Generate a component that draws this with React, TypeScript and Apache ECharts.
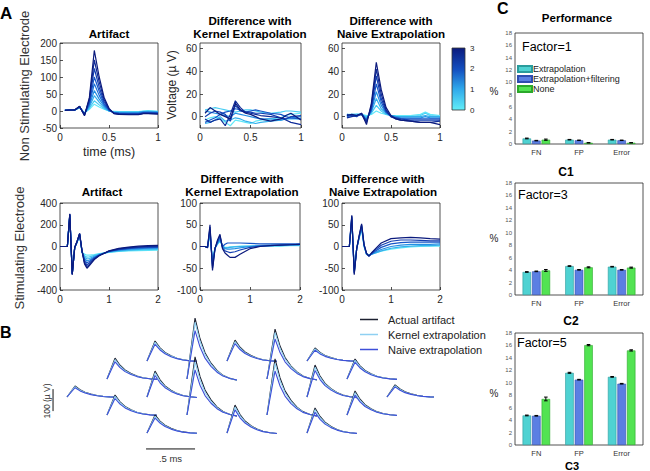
import React, { useEffect, useRef } from "react";
import * as echarts from "echarts";

const FONT = '"Liberation Sans", Arial, Helvetica, sans-serif';
const INK = "#262626";

// ---------- Panel A: traces in µV ----------
const shortTimesMs = [0.05, 0.1, 0.15, 0.2, 0.25, 0.3, 0.35, 0.4, 0.45, 0.5, 0.55, 0.6, 0.7, 0.8, 0.85, 0.9, 1.0];
const longTimesMs = [0, 0.1, 0.15, 0.2, 0.25, 0.3, 0.35, 0.4, 0.45, 0.5, 0.55, 0.6, 0.7, 0.8, 1.0, 1.2, 1.4, 1.6, 1.8, 2.0];

const nonStimArtifact = [
  [2, 3, 3, 14, -14, 40, 178, 100, 40, 8, -8, -10, -11, -11, -8, -8, -9],
  [2, 3, 3, 13, -12, 35, 150, 85, 34, 6, -7, -9, -10, -10, -7, -7, -8],
  [2, 3, 3, 13, -11, 30, 125, 70, 28, 4, -6, -8, -9, -9, -6, -6, -7],
  [2, 3, 3, 12, -10, 25, 100, 58, 22, 3, -5, -7, -8, -8, -5, -5, -6],
  [2, 3, 3, 12, -9, 20, 80, 46, 18, 2, -5, -6, -7, -7, -4, -4, -5],
  [2, 3, 3, 11, -8, 16, 60, 35, 14, 1, -4, -5, -6, -5, -3, -3, -4],
  [2, 3, 3, 10, -7, 12, 45, 26, 10, 0, -3, -4, -4, -4, -2, -2, -3],
  [2, 3, 3, 10, -6, 8, 30, 18, 7, 0, -2, -3, -3, -3, -1, 0, -2],
  [2, 3, 3, 9, -5, 5, 20, 12, 5, 0, -1, -2, -2, -2, 0, 1, -1],
];
const nonStimKernelDiff = [
  [3, 8, 5, 2, 0, -2, 12, 6, 3, 2, 0, -2, -4, -2, 1, 3, -3],
  [-2, -5, -3, -2, -8, 2, 14, 8, 4, 3, 2, 1, 0, -1, -3, -5, -7],
  [0, 3, 5, 4, 2, -4, 10, 5, 4, 4, 3, 3, 2, -1, -2, 0, 1],
  [-5, -3, -1, 2, 4, 5, 7, 6, 4, 5, 6, 5, 3, 2, 0, -1, -2],
  [5, 4, 3, 2, 1, 0, 3, 2, 1, 0, -1, -2, -2, -3, -2, -1, 0],
  [-6, -5, -3, 0, -4, -3, -1, -2, -4, -5, -6, -5, -4, -3, -2, -2, -2],
  [6, 7, 8, 7, 6, 5, 4, 5, 6, 6, 5, 4, 3, 4, 5, 5, 4],
  [-3, -1, 0, -2, -5, -8, -3, -4, -5, -6, -4, -3, -2, -1, 1, 2, 3],
];
const nonStimNaiveDiff = [
  [1, 2, 1, 3, -7, 12, 48, 24, 8, 1, -2, -3, -4, -5, -5, -5, -7],
  [-1, 0, 1, 2, -5, 10, 42, 20, 6, 0, -2, -3, -4, -5, -5, -5, -4],
  [2, 1, 0, 3, -4, 8, 36, 16, 5, 0, -1, -2, -3, -3, -3, -3, -3],
  [0, 1, 1, 2, -3, 6, 29, 13, 4, 0, -1, -2, -2, -2, -2, -2, -2],
  [1, 1, 1, 2, -2, 5, 22, 10, 3, 1, 0, -1, -1, -1, 0, -1, -1],
  [1, 2, 2, 2, -1, 4, 16, 7, 3, 1, 0, 0, 0, 0, 1, 0, 0],
  [1, 1, 2, 2, 0, 3, 10, 5, 2, 1, 0, 0, 0, 1, 3, 1, 0],
  [2, 2, 2, 2, 1, 2, 5, 3, 2, 1, 1, 1, 1, 2, 4, 2, 1],
];
const stimArtifact = [
  [0, 0, 0, 300, -260, -10, 50, 120, -40, -160, -200, -175, -120, -85, -40, -18, -5, 3, 8, 10],
  [0, 0, 0, 298, -258, -10, 48, 118, -42, -150, -185, -165, -115, -83, -42, -22, -10, -3, 2, 4],
  [0, 0, 0, 295, -255, -10, 46, 116, -44, -138, -168, -152, -110, -80, -44, -26, -15, -8, -4, -2],
  [0, 0, 0, 292, -252, -10, 44, 114, -46, -125, -150, -138, -104, -78, -46, -30, -20, -14, -10, -8],
  [0, 0, 0, 290, -250, -10, 42, 112, -48, -112, -132, -124, -97, -76, -48, -34, -25, -20, -16, -14],
  [0, 0, 0, 287, -247, -10, 40, 110, -50, -98, -115, -110, -90, -73, -50, -38, -31, -26, -22, -20],
  [0, 0, 0, 284, -244, -10, 38, 108, -52, -84, -98, -95, -82, -70, -52, -42, -36, -32, -29, -27],
  [0, 0, 0, 280, -240, -10, 36, 106, -54, -70, -80, -80, -74, -66, -54, -46, -41, -38, -35, -33],
];
const stimKernelDiff = [
  [0, 0, -3, 50, -55, -5, 15, 28, -5, -15, -20, -25, -25, -18, -5, 0, 2, 3, 4, 5],
  [0, 0, -3, 45, -50, -5, 12, 25, -3, -10, -12, -14, -12, -8, -2, 1, 2, 3, 4, 5],
  [0, 0, -2, 40, -45, -4, 10, 22, 0, 5, 8, 8, 8, 8, 7, 6, 6, 6, 6, 6],
  [0, 0, -2, 35, -40, -4, 8, 18, 0, -5, -6, -6, -5, -3, 0, 2, 3, 3, 4, 4],
  [0, 0, -2, 30, -35, -3, 6, 15, 0, -3, -3, -2, -1, 0, 1, 2, 2, 2, 3, 3],
  [0, 0, -1, 25, -30, -3, 5, 12, 1, -2, -2, -1, 0, 1, 1, 1, 1, 1, 2, 2],
];
const stimNaiveDiff = [
  [0, 0, 0, 72, -65, -5, 25, 52, 5, -15, -22, -15, -3, 8, 18, 20, 21, 20, 18, 17],
  [0, 0, 0, 70, -62, -5, 24, 50, 4, -16, -22, -16, -6, 3, 12, 15, 15, 14, 13, 13],
  [0, 0, 0, 68, -60, -5, 22, 48, 3, -17, -22, -17, -9, -2, 6, 9, 10, 10, 10, 10],
  [0, 0, 0, 65, -58, -5, 21, 45, 2, -18, -21, -18, -12, -7, 0, 3, 5, 5, 5, 6],
  [0, 0, 0, 62, -55, -5, 20, 42, 1, -18, -20, -18, -14, -10, -4, -1, 1, 2, 2, 3],
  [0, 0, 0, 60, -52, -5, 18, 40, 0, -17, -19, -17, -14, -11, -6, -3, -1, 0, 1, 1],
];

// dark navy -> cyan ramp used for the traces and the colour bar
const rampColors = ["#0b1a7d", "#0e2b98", "#123fb2", "#1656c8", "#1b70d8", "#2490e4", "#33afec", "#48cdf3", "#62e8f8"];
const colorbarTicks = [0, 1, 2, 3];

// ---------- Panel B: artifact per electrode ----------
const electrodeCol = [0, 1, 1, 2, 2, 2, 3, 3, 4, 4, 5, 5, 6, 6, 6, 7, 7, 8];
const electrodeRow = [2, 1, 3, 0, 2, 4, 1, 3, 0, 4, 1, 3, 0, 2, 4, 1, 3, 2];
const actualPeakUv = [50, 95, 91, 91, 118, 82, 277, 264, 95, 127, 227, 255, 59, 145, 114, 91, 109, 55];
const kernelPeakUv = [47, 88, 85, 85, 110, 76, 258, 240, 88, 118, 211, 235, 55, 135, 106, 85, 101, 51];
const naivePeakUv = [42, 78, 75, 76, 98, 68, 220, 205, 79, 105, 182, 200, 49, 120, 94, 76, 90, 46];
const pulseTimeMs = [0, 0.082, 0.133, 0.184, 0.245, 0.306, 0.367, 0.439, 0.51];
const pulseShape = [0, 1, 0.66, 0.43, 0.26, 0.14, 0.06, 0.01, -0.02];
const scaleBarMs = 0.5;
const scaleBarUv = 100;

// ---------- Panel C: performance (%) ----------
const perfCategories = ["FN", "FP", "Error"];
const methodNames = ["Extrapolation", "Extrapolation+filtering", "None"];
const factorLabels = ["Factor=1", "Factor=3", "Factor=5"];
const factor1Ext = [0.9, 0.7, 0.7];
const factor1Filt = [0.55, 0.6, 0.6];
const factor1None = [0.7, 0.2, 0.2];
const factor3Ext = [3.7, 4.65, 4.55];
const factor3Filt = [3.8, 4.05, 4.05];
const factor3None = [3.95, 4.45, 4.4];
const factor5Ext = [4.75, 11.6, 10.95];
const factor5Filt = [4.7, 10.5, 9.85];
const factor5None = [7.4, 16.05, 15.2];
const factor1Err = [[0.06, 0.04, 0.04], [0.04, 0.04, 0.04], [0.1, 0.03, 0.03]];
const factor3Err = [[0.05, 0.05, 0.05], [0.05, 0.05, 0.05], [0.15, 0.08, 0.08]];
const factor5Err = [[0.06, 0.08, 0.06], [0.05, 0.05, 0.05], [0.3, 0.1, 0.1]];

const methodFill = ["#4fd2d2", "#5b7fe3", "#52e352"];
const methodEdge = ["#2a9c9c", "#2f4db0", "#2ba82b"];

const BAR_W = 8.5;
const BAR_GAP = 0.12;

export default function App() {
  const ref = useRef<HTMLDivElement>(null);

  useEffect(() => {
    if (!ref.current) return;
    const chart = echarts.init(ref.current, undefined, { renderer: "svg" });

    const aGrids = [
      { left: 60, top: 43, width: 98, height: 85 },
      { left: 200, top: 43, width: 101, height: 85 },
      { left: 342, top: 43, width: 98, height: 85 },
      { left: 60, top: 203, width: 98, height: 87 },
      { left: 200, top: 203, width: 100, height: 87 },
      { left: 342, top: 203, width: 98, height: 87 },
    ];
    const bGrid = { left: 40, top: 300, width: 392, height: 165 };
    const cGrids = [
      { left: 515, top: 33, width: 128, height: 111 },
      { left: 515, top: 183, width: 128, height: 112 },
      { left: 515, top: 333, width: 128, height: 112 },
    ];

    const boxed = (g: any) => ({
      ...g,
      show: true,
      borderColor: INK,
      borderWidth: 0.8,
      backgroundColor: "transparent",
      containLabel: false,
      outerBoundsMode: "none",
    });

    const grid: any[] = [
      ...aGrids.map(boxed),
      { ...bGrid, show: false, containLabel: false, outerBoundsMode: "none" },
      ...cGrids.map(boxed),
    ];

    const tickLabel = { color: INK, fontSize: 10, fontFamily: FONT };
    const xAxis: any[] = [];
    const yAxis: any[] = [];
    const yRanges = [
      { min: -50, max: 200, interval: 50 },
      { min: -10, max: 65, custom: [0, 20, 40, 60] },
      { min: -10, max: 65, custom: [0, 20, 40, 60] },
      { min: -400, max: 400, interval: 200 },
      { min: -100, max: 100, interval: 50 },
      { min: -100, max: 100, interval: 50 },
    ];
    aGrids.forEach((_, i) => {
      const row1 = i < 3;
      xAxis.push({
        gridIndex: i,
        type: "value",
        min: 0,
        max: row1 ? 1 : 2,
        interval: row1 ? 0.5 : 1,
        axisLine: { show: false, onZero: false },
        axisTick: { inside: true, length: 3, lineStyle: { color: INK, width: 0.8 } },
        axisLabel: { ...tickLabel, margin: 4 },
        splitLine: { show: false },
      });
      const r: any = yRanges[i];
      const y: any = {
        gridIndex: i,
        type: "value",
        min: r.min,
        max: r.max,
        axisLine: { show: false, onZero: false },
        axisTick: { inside: true, length: 3, lineStyle: { color: INK, width: 0.8 } },
        axisLabel: { ...tickLabel, margin: 3 },
        splitLine: { show: false },
      };
      if (r.custom) {
        y.axisLabel.customValues = r.custom;
        y.axisTick.customValues = r.custom;
      } else {
        y.interval = r.interval;
      }
      yAxis.push(y);
    });
    xAxis.push({ gridIndex: 6, type: "value", min: 0, max: 4, show: false });
    yAxis.push({ gridIndex: 6, type: "value", min: 0, max: 750, show: false });
    cGrids.forEach((_, k) => {
      xAxis.push({
        gridIndex: 7 + k,
        type: "category",
        data: perfCategories,
        axisLine: { show: false, onZero: false },
        axisTick: { show: false },
        axisLabel: { color: "#333", fontSize: 7.5, fontFamily: FONT, margin: 4 },
        splitLine: { show: false },
      });
      yAxis.push({
        gridIndex: 7 + k,
        type: "value",
        min: 0,
        max: 18,
        interval: 2,
        axisLine: { show: false, onZero: false },
        axisTick: { inside: true, length: 2, lineStyle: { color: INK, width: 0.6 } },
        axisLabel: { color: "#555", fontSize: 6, fontFamily: FONT, margin: 3 },
        splitLine: { show: false },
      });
    });

    const series: any[] = [];

    // Panel A traces
    const traceSets = [
      { times: shortTimesMs, traces: nonStimArtifact },
      { times: shortTimesMs, traces: nonStimKernelDiff },
      { times: shortTimesMs, traces: nonStimNaiveDiff },
      { times: longTimesMs, traces: stimArtifact },
      { times: longTimesMs, traces: stimKernelDiff },
      { times: longTimesMs, traces: stimNaiveDiff },
    ];
    traceSets.forEach((set, g) => {
      const n = set.traces.length;
      // draw light traces first so the dark ones sit on top
      for (let i = n - 1; i >= 0; i--) {
        const color = rampColors[Math.round((i * (rampColors.length - 1)) / Math.max(1, n - 1))];
        series.push({
          type: "line",
          xAxisIndex: g,
          yAxisIndex: g,
          symbol: "none",
          silent: true,
          data: set.traces[i].map((v, j) => [set.times[j], v]),
          lineStyle: { color, width: 1.2 },
          clip: true,
        });
      }
    });

    // Panel B: per-electrode waveforms laid out on the array
    const colPitchMs = 40 / 98;
    const firstColMs = 27 / 98;
    const rowPitchUv = 18 / 0.22;
    const topRowUv = 104 / 0.22;
    const bTraces = [
      { name: "Actual artifact", peaks: actualPeakUv, color: "#1c2030" },
      { name: "Kernel extrapolation", peaks: kernelPeakUv, color: "#8fd0f2" },
      { name: "Naive extrapolation", peaks: naivePeakUv, color: "#3e4fd8" },
    ];
    electrodeCol.forEach((c, e) => {
      const x0 = firstColMs + c * colPitchMs;
      const y0 = topRowUv - electrodeRow[e] * rowPitchUv;
      bTraces.forEach((def) => {
        series.push({
          type: "line",
          name: def.name,
          xAxisIndex: 6,
          yAxisIndex: 6,
          symbol: "none",
          silent: true,
          data: pulseTimeMs.map((t, j) => [x0 + t, y0 + def.peaks[e] * pulseShape[j]]),
          lineStyle: { color: def.color, width: 1.1 },
          itemStyle: { color: def.color },
        });
      });
    });
    // scale bars
    const hBar = { t: 1.082, v: 73 };
    const vBar = { t: 0.133, v: 245 };
    series.push({
      type: "line",
      xAxisIndex: 6,
      yAxisIndex: 6,
      symbol: "none",
      silent: true,
      data: [[hBar.t, hBar.v], [hBar.t + scaleBarMs, hBar.v]],
      lineStyle: { color: "#111", width: 1 },
    });
    series.push({
      type: "line",
      xAxisIndex: 6,
      yAxisIndex: 6,
      symbol: "none",
      silent: true,
      data: [[vBar.t, vBar.v], [vBar.t, vBar.v + scaleBarUv]],
      lineStyle: { color: "#111", width: 1 },
    });

    // Panel C bars
    const factorBars = [
      [factor1Ext, factor1Filt, factor1None],
      [factor3Ext, factor3Filt, factor3None],
      [factor5Ext, factor5Filt, factor5None],
    ];
    const factorErrs = [factor1Err, factor3Err, factor5Err];
    const slotPx = BAR_W * (1 + BAR_GAP);
    factorBars.forEach((bars, k) => {
      bars.forEach((vals, m) => {
        series.push({
          type: "bar",
          name: methodNames[m],
          xAxisIndex: 7 + k,
          yAxisIndex: 7 + k,
          barWidth: BAR_W,
          barGap: `${BAR_GAP * 100}%`,
          silent: true,
          data: vals,
          itemStyle: { color: methodFill[m], borderColor: methodEdge[m], borderWidth: 0.6 },
        });
      });
      const errData: number[][] = [];
      bars.forEach((vals, m) => vals.forEach((v, c) => errData.push([c, v, factorErrs[k][m][c], m])));
      series.push({
        type: "custom",
        xAxisIndex: 7 + k,
        yAxisIndex: 7 + k,
        silent: true,
        z: 5,
        data: errData,
        renderItem: (_p: any, api: any) => {
          const c = api.value(0);
          const v = api.value(1);
          const e = api.value(2);
          const m = api.value(3);
          const hi = api.coord([c, v + e]);
          const lo = api.coord([c, v - e]);
          const x = hi[0] + (m - 1) * slotPx;
          const st = { stroke: "#000", lineWidth: 1 };
          return {
            type: "group",
            children: [
              { type: "line", shape: { x1: x, y1: hi[1], x2: x, y2: lo[1] }, style: st },
              { type: "line", shape: { x1: x - 1.8, y1: hi[1], x2: x + 1.8, y2: hi[1] }, style: st },
              { type: "line", shape: { x1: x - 1.8, y1: lo[1], x2: x + 1.8, y2: lo[1] }, style: st },
            ],
          };
        },
      });
    });

    // text annotations
    const texts: any[] = [];
    const t = (text: string, x: number, y: number, size: number, o: any = {}) =>
      texts.push({
        type: "text",
        x,
        y,
        rotation: o.rot || 0,
        silent: true,
        z: 10,
        style: {
          text,
          fontSize: size,
          fontWeight: o.bold ? "bold" : "normal",
          fontFamily: FONT,
          fill: o.color || "#000",
          align: o.align || "center",
          verticalAlign: "middle",
        },
      });
    const R = Math.PI / 2;
    const TS = 11.6;
    t("A", 0, 13, 17, { bold: true, align: "left" });
    t("Non Stimulating Electrode", 24, 86, 13, { rot: R, color: "#333" });
    t("Stimulating Electrode", 19, 248, 13, { rot: R, color: "#333" });
    t("Artifact", 109, 33, TS, { bold: true });
    t("Difference with", 250, 20.5, TS, { bold: true });
    t("Kernel Extrapolation", 250, 33.5, TS, { bold: true });
    t("Difference with", 391, 20.5, TS, { bold: true });
    t("Naive Extrapolation", 391, 33.5, TS, { bold: true });
    t("time (ms)", 109, 152, 12.5, { color: INK });
    t("Voltage (µ V)", 172, 85, 12, { rot: R, color: INK });
    t("Artifact", 102, 191.5, TS, { bold: true });
    t("Difference with", 242, 178.5, TS, { bold: true });
    t("Kernel Extrapolation", 242, 191.5, TS, { bold: true });
    t("Difference with", 383, 178.5, TS, { bold: true });
    t("Naive Extrapolation", 383, 191.5, TS, { bold: true });

    const cbar = { x: 452, y: 48, w: 13, h: 62 };
    colorbarTicks.forEach((v) =>
      t(String(v), 470, cbar.y + cbar.h - (v * cbar.h) / colorbarTicks[colorbarTicks.length - 1], 8, { align: "left", color: INK })
    );

    t("B", 0, 332, 16, { bold: true, align: "left" });
    t("100 (µ V)", 46.5, 401, 8.5, { rot: R, color: "#333" });
    t(".5 ms", 170.5, 458, 9.5, { color: "#333" });

    t("C", 497, 8, 16, { bold: true, align: "left" });
    t("Performance", 577, 18, 11.5, { bold: true });
    t(factorLabels[0], 522, 47, 12.5, { align: "left" });
    t(factorLabels[1], 518, 195, 12.5, { align: "left" });
    t(factorLabels[2], 517, 343, 12.5, { align: "left" });
    const pctY = [91, 238, 393];
    pctY.forEach((y) => t("%", 494, y, 10, { color: INK }));
    t("C1", 566, 172, 12, { bold: true });
    t("C2", 571, 321, 12, { bold: true });
    t("C3", 572, 465.5, 11, { bold: true });

    const graphic: any[] = [
      {
        type: "rect",
        silent: true,
        shape: { x: cbar.x, y: cbar.y, width: cbar.w, height: cbar.h },
        style: {
          fill: {
            type: "linear",
            x: 0,
            y: 0,
            x2: 0,
            y2: 1,
            colorStops: [
              { offset: 0, color: "#0b1a7d" },
              { offset: 0.35, color: "#1450c0" },
              { offset: 0.65, color: "#2ea6ea" },
              { offset: 1, color: "#62eef8" },
            ],
          },
          stroke: "#333",
          lineWidth: 0.8,
        },
      },
      ...texts,
    ];

    chart.setOption({
      animation: false,
      textStyle: { fontFamily: FONT },
      grid,
      xAxis,
      yAxis,
      legend: [
        {
          data: bTraces.map((d) => d.name),
          orient: "vertical",
          left: 360,
          top: 313,
          padding: 0,
          itemGap: 2,
          itemWidth: 18,
          itemHeight: 1.5,
          icon: "rect",
          selectedMode: false,
          textStyle: { fontSize: 11, fontFamily: FONT, color: "#222", lineHeight: 13, padding: [0, 0, 0, 5] },
        },
        {
          data: methodNames,
          orient: "vertical",
          left: 517,
          top: 64,
          padding: 0,
          itemGap: 0,
          itemWidth: 14,
          itemHeight: 6,
          icon: "rect",
          selectedMode: false,
          textStyle: { fontSize: 9, fontFamily: FONT, color: "#222", lineHeight: 10, padding: [0, 0, 0, -4] },
        },
      ],
      series,
      graphic,
    });

    return () => chart.dispose();
  }, []);

  return <div ref={ref} style={{ position: "absolute", left: 0, top: 0, width: 650, height: 471 }} />;
}
